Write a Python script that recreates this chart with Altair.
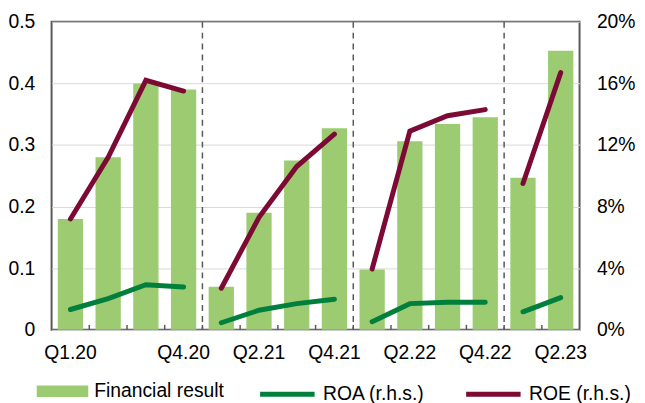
import altair as alt
import pandas as pd

quarters = ["Q1.20", "Q2.20", "Q3.20", "Q4.20", "Q1.21", "Q2.21", "Q3.21", "Q4.21",
            "Q1.22", "Q2.22", "Q3.22", "Q4.22", "Q1.23", "Q2.23"]
years = ["2020"] * 4 + ["2021"] * 4 + ["2022"] * 4 + ["2023"] * 2
financial_result = [0.18, 0.28, 0.40, 0.39, 0.07, 0.19, 0.275, 0.327,
                    0.098, 0.306, 0.334, 0.345, 0.247, 0.453]
roa = [1.32, 2.03, 2.93, 2.78, 0.46, 1.27, 1.70, 1.98, 0.53, 1.70, 1.79, 1.79, 1.17, 2.09]
roe = [7.2, 11.2, 16.2, 15.5, 2.7, 7.3, 10.6, 12.7, 3.95, 12.9, 13.9, 14.3, 9.5, 16.7]
shown_labels = ["Q1.20", "Q4.20", "Q2.21", "Q4.21", "Q2.22", "Q4.22", "Q2.23"]
year_breaks = ["Q1.21", "Q1.22", "Q1.23"]
left_ticks = [0, 0.1, 0.2, 0.3, 0.4, 0.5]
right_ticks = [0, 4, 8, 12, 16, 20]

W, H = 533, 311
FS = 19.5
GRAY = "#595959"

bars_df = pd.DataFrame({"q": quarters, "v": financial_result, "series": "Financial result"})
lines_df = pd.concat([
    pd.DataFrame({"q": quarters, "v": roa, "metric": "ROA (r.h.s.)", "year": years}),
    pd.DataFrame({"q": quarters, "v": roe, "metric": "ROE (r.h.s.)", "year": years}),
])
ticks_df = pd.DataFrame({"q": quarters[1:]})
breaks_df = pd.DataFrame({"q": year_breaks})

xscale = alt.Scale(type="band", domain=quarters, paddingInner=0, paddingOuter=0)
xaxis = alt.Axis(values=shown_labels, ticks=False, domain=False, grid=False, labelAngle=0,
                 labelPadding=14, labelFontSize=FS, labelColor="black", title=None)

bars = alt.Chart(bars_df).mark_bar(width=alt.RelativeBandSize(0.67)).encode(
    x=alt.X("q:N", scale=xscale, axis=xaxis, sort=quarters),
    y=alt.Y("v:Q", scale=alt.Scale(domain=[0, 0.5], nice=False),
            axis=alt.Axis(values=left_ticks, format=".1~f", grid=True, gridColor="#d9d9d9",
                          ticks=False, domain=False, labelPadding=17, labelFontSize=FS,
                          labelColor="black", title=None)),
    color=alt.Color("series:N",
                    scale=alt.Scale(domain=["Financial result"], range=["#9ccb72"]),
                    legend=alt.Legend(orient="none", legendX=-15, legendY=347, title=None,
                                      symbolType="M-1,-0.22H1V0.22H-1Z", symbolSize=2704,
                                      symbolStrokeWidth=0, labelOffset=6, padding=0,
                                      labelFontSize=FS, labelColor="black")),
)

small_ticks = alt.Chart(ticks_df).mark_rule(color=GRAY, strokeWidth=1.5).encode(
    x=alt.X("q:N", scale=xscale, sort=quarters, bandPosition=0),
    y=alt.value(H),
    y2=alt.value(H - 5),
)

breaks = alt.Chart(breaks_df).mark_rule(color=GRAY, strokeWidth=1.5, strokeDash=[6, 5]).encode(
    x=alt.X("q:N", scale=xscale, sort=quarters, bandPosition=0),
    y=alt.value(0),
    y2=alt.value(H),
)

lines = alt.Chart(lines_df).mark_line(strokeWidth=5, strokeCap="round").encode(
    x=alt.X("q:N", scale=xscale, sort=quarters),
    y=alt.Y("v:Q", scale=alt.Scale(domain=[0, 20], nice=False),
            axis=alt.Axis(orient="right", values=right_ticks, labelExpr="datum.value + '%'",
                          grid=False, ticks=False, domain=False, labelPadding=17,
                          labelFontSize=FS, labelColor="black", title=None)),
    stroke=alt.Stroke("metric:N",
                      scale=alt.Scale(domain=["ROA (r.h.s.)", "ROE (r.h.s.)"],
                                      range=["#00803c", "#7d0a35"]),
                      legend=alt.Legend(orient="none", direction="horizontal", legendX=208,
                                        legendY=346, title=None, symbolType="stroke",
                                        symbolSize=3025, symbolStrokeWidth=5, labelOffset=6,
                                        columnPadding=31, padding=0, labelFontSize=FS,
                                        labelColor="black")),
    detail="year:N",
)

left_layer = alt.layer(bars, small_ticks, breaks)
chart = alt.layer(left_layer, lines).resolve_scale(y="independent").properties(
    width=W, height=H,
    autosize=alt.AutoSizeParams(type="none"),
    padding={"left": 44, "top": 12, "right": 58, "bottom": 76},
).configure(font="Liberation Sans").configure_view(stroke=GRAY, strokeWidth=2)

chart.save("out.html", embed_options={"renderer": "svg", "actions": False})
